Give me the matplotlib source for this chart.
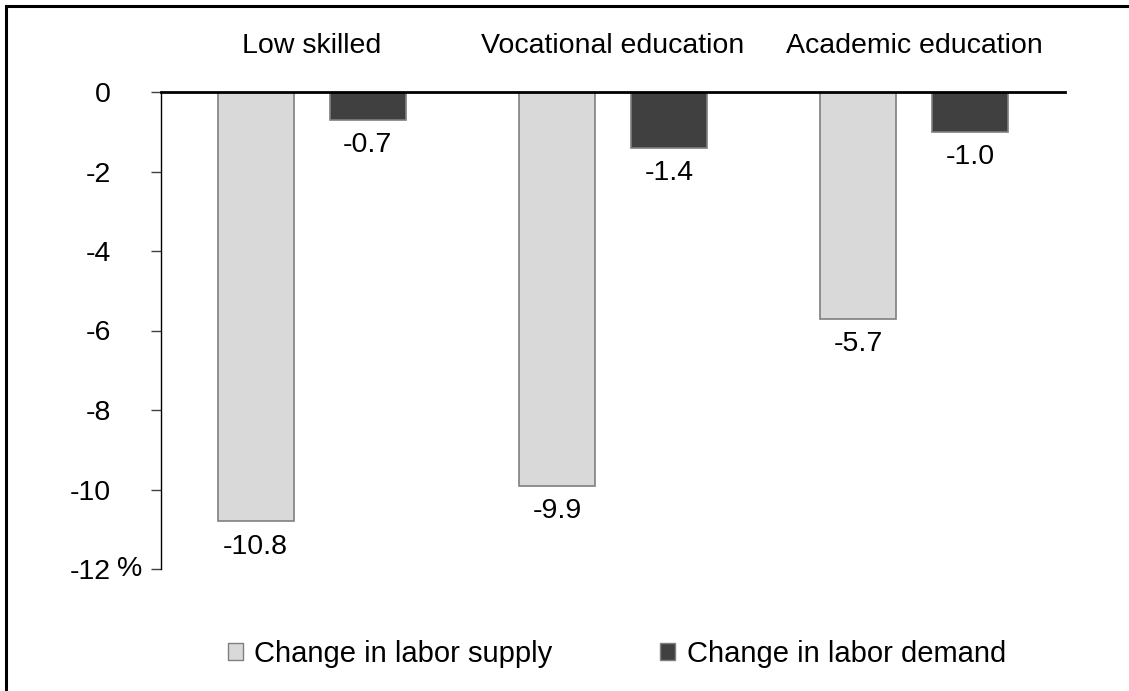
import matplotlib
matplotlib.use("Agg")
import numpy as np
import matplotlib.pyplot as plt
from matplotlib.patches import Rectangle, Patch

plt.rcParams['font.family'] = ['Liberation Sans', 'DejaVu Sans']

categories = ["Low skilled", "Vocational education", "Academic education"]
supply = [-10.8, -9.9, -5.7]
demand = [-0.7, -1.4, -1.0]
series_names = ["Change in labor supply", "Change in labor demand"]
yticks = [0, -2, -4, -6, -8, -10, -12]
ytick_labels = ["0", "-2", "-4", "-6", "-8", "-10", "-12"]

light = "#d9d9d9"
dark = "#404040"
edge = "#7f7f7f"
fs = 20.5

fig = plt.figure(figsize=(11.29, 6.91), dpi=100)
ax = fig.add_axes([161/1129, 1-569/691, (1065-161)/1129, (569-92)/691])

x = np.arange(len(categories))
w = 0.252
off = 0.186
b1 = ax.bar(x - off, supply, w, color=light, edgecolor=edge, linewidth=1.2)
b2 = ax.bar(x + off, demand, w, color=dark, edgecolor=edge, linewidth=1.2)
ax.bar_label(b1, fmt="%.1f", padding=9, fontsize=fs)
ax.bar_label(b2, fmt="%.1f", padding=9, fontsize=fs)

ax.set_xlim(-0.5, 2.5)
ax.set_ylim(-12, 0)
ax.set_xticks([])
ax.set_yticks(yticks)
ax.set_yticklabels(ytick_labels, fontsize=fs)
ax.tick_params(axis='y', length=7, width=1, color='#404040', pad=29)

for sp in ['right', 'bottom']:
    ax.spines[sp].set_visible(False)
ax.spines['top'].set_linewidth(2)
ax.spines['left'].set_linewidth(1)

for i, c in enumerate(categories):
    ax.text(i, 1.096, c, transform=ax.get_xaxis_transform(), ha='center', va='center', fontsize=fs)

# "%" unit next to -12
fig.text(117/1129, 1-569/691, "%", fontsize=fs, ha='left', va='center')

handles = [Patch(facecolor=light, edgecolor=edge), Patch(facecolor=dark, edgecolor=edge)]
fig.legend(handles, series_names, loc='center', bbox_to_anchor=(617/1129, 1-654/691), ncol=2,
           frameon=False, fontsize=21, handlelength=0.5, handleheight=0.5, handletextpad=0.4,
           columnspacing=3.7)

fig.patches.append(Rectangle((6/1129, -0.05), 1.2, 1-6/691+0.05, transform=fig.transFigure,
                             fill=False, edgecolor='black', linewidth=2.2))

fig.savefig("out.png", dpi=100)
